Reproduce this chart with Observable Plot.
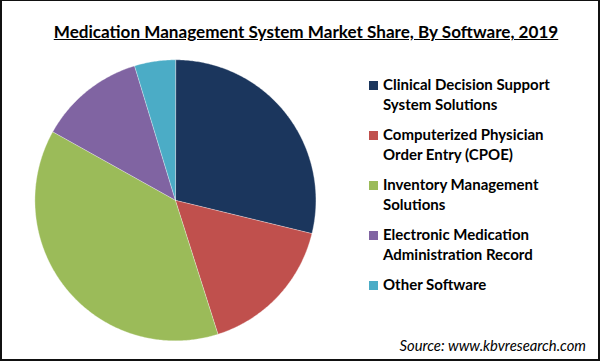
<!DOCTYPE html>
<html>
<head>
<meta charset="utf-8">
<script src="https://cdn.jsdelivr.net/npm/d3@7"></script>
<script src="https://cdn.jsdelivr.net/npm/@observablehq/plot@0.6"></script>
<style>
  html, body { margin: 0; padding: 0; background: #fff; }
  #wrap { position: relative; width: 600px; height: 361px; box-sizing: border-box;
          border: 2px solid #111; border-top-width: 1px; overflow: hidden; background: #fff;
          font-family: Lato, "Open Sans", sans-serif; }
  #chart { position: absolute; left: -2px; top: -1px; }
  #title { position: absolute; left: 0; width: 600px; top: 20px; text-align: center;
           font-weight: bold; font-size: 17.1px; text-decoration: underline; color: #000; margin-left: 4px; }
  #legend { position: absolute; left: 367px; top: 74px; }
  .item { position: relative; height: 50px; }
  .sw { position: absolute; left: 0; top: 6px; width: 9px; height: 9px; }
  .lab { position: absolute; left: 14px; top: 0; font-size: 15px; line-height: 19.5px; font-weight: bold; color: #000; white-space: nowrap; }
  #source { position: absolute; right: 12px; top: 335px; font-style: italic; font-size: 14.8px; color: #000; }
</style>
</head>
<body>
<div id="wrap">
  <div id="chart"></div>
  <div id="title">Medication Management System Market Share, By Software, 2019</div>
  <div id="legend"></div>
  <div id="source">Source: www.kbvresearch.com</div>
</div>
<script>
const categories = [
  "Clinical Decision Support System Solutions",
  "Computerized Physician Order Entry (CPOE)",
  "Inventory Management Solutions",
  "Electronic Medication Administration Record",
  "Other Software"
];
const legendLines = [
  ["Clinical Decision Support", "System Solutions"],
  ["Computerized Physician", "Order Entry (CPOE)"],
  ["Inventory Management", "Solutions"],
  ["Electronic Medication", "Administration Record"],
  ["Other Software"]
];
const shares = [28.8, 16.3, 38.0, 12.2, 4.7];
const colors = ["#1b365d", "#c0504d", "#9bbb59", "#8064a2", "#4bacc6"];

// Build slice polygons (unit circle) from the shares, clockwise from 12 o'clock
const total = d3.sum(shares);
const pts = [];
let start = 0;
categories.forEach((c, i) => {
  const a0 = start / total * 2 * Math.PI;
  const a1 = (start + shares[i]) / total * 2 * Math.PI;
  start += shares[i];
  pts.push({cat: c, x: 0, y: 0});
  const n = Math.max(2, Math.ceil((a1 - a0) / 0.01));
  for (let k = 0; k <= n; k++) {
    const a = a0 + (a1 - a0) * k / n;
    pts.push({cat: c, x: Math.sin(a), y: Math.cos(a)});
  }
});

const cx = 175.5, cy = 200.5, r = 141;
const W = 600, H = 361;
const chart = Plot.plot({
  width: W, height: H,
  marginLeft: cx - r, marginRight: W - (cx + r),
  marginTop: cy - r, marginBottom: H - (cy + r),
  x: {domain: [-1, 1], axis: null},
  y: {domain: [-1, 1], axis: null},
  color: {domain: categories, range: colors},
  marks: [
    Plot.line(pts, {x: "x", y: "y", z: "cat", fill: "cat", stroke: "#fff", strokeWidth: 0.5, strokeOpacity: 0.7, curve: "linear-closed"})
  ]
});
document.getElementById("chart").appendChild(chart);

const legend = document.getElementById("legend");
categories.forEach((c, i) => {
  const item = document.createElement("div");
  item.className = "item";
  const sw = document.createElement("div");
  sw.className = "sw";
  sw.style.background = colors[i];
  const lab = document.createElement("div");
  lab.className = "lab";
  lab.innerHTML = legendLines[i].join("<br>");
  item.appendChild(sw); item.appendChild(lab);
  legend.appendChild(item);
});
</script>
</body>
</html>
